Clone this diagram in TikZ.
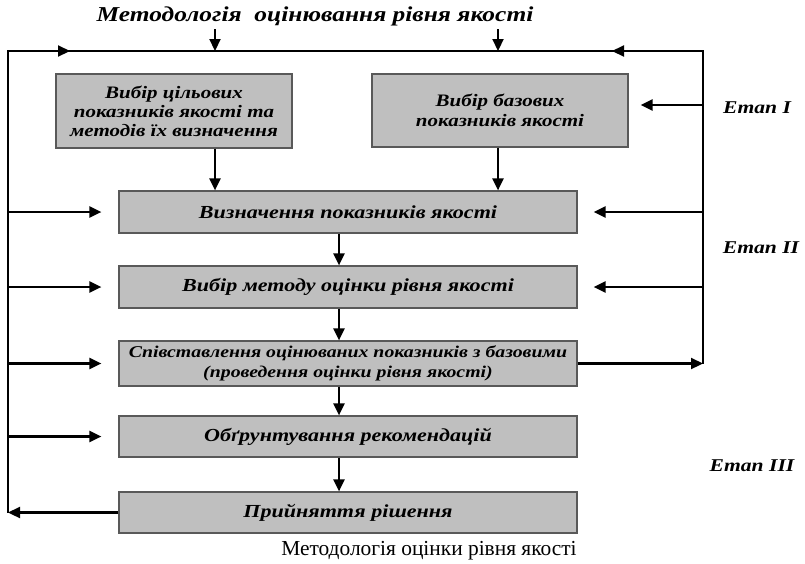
\documentclass[tikz,border=0pt]{standalone}
\usepackage{fontspec}
\setmainfont{Liberation Serif}
\newfontfamily\widefont[FakeStretch=1.2]{Liberation Serif}
\usetikzlibrary{arrows.meta}
\begin{document}
\begin{tikzpicture}[x=1pt,y=-1pt,
  box/.style={draw=black!65, fill=black!25, line width=1.2pt, inner sep=0pt, align=center,
              font=\widefont\bfseries\itshape\fontsize{18.4}{21}\selectfont},
  ln/.style={line width=2.2pt},
  arr/.style={line width=2.2pt, -{Triangle[length=12pt,width=11pt]}},
  etap/.style={font=\widefont\bfseries\itshape\fontsize{18}{20}\selectfont}]
\useasboundingbox (0,0) rectangle (805,563);
\node[font=\widefont\bfseries\itshape\fontsize{21.2}{24}\selectfont] (title) at (315,16) {Методологія\ \ оцінювання рівня якості};
\node[box, minimum width=236pt, minimum height=74pt, font=\widefont\bfseries\itshape\fontsize{17.5}{19}\selectfont] (b1) at (174,111) {Вибір цільових\\показників якості та\\методів їх визначення};
\node[box, minimum width=256pt, minimum height=73pt, font=\widefont\bfseries\itshape\fontsize{17.5}{19.5}\selectfont] (b2) at (500,110.5) {Вибір базових\\показників якості};
\node[box, minimum width=458pt, minimum height=42pt] (b3) at (348,212) {Визначення показників якості};
\node[box, minimum width=458pt, minimum height=42pt] (b4) at (348,287) {Вибір методу оцінки рівня якості};
\node[box, minimum width=458pt, minimum height=45pt, font=\widefont\bfseries\itshape\fontsize{16.5}{19.5}\selectfont] (b5) at (348,363.5) {Співставлення оцінюваних показників з базовими\\(проведення оцінки рівня якості)};
\node[box, minimum width=458pt, minimum height=41pt] (b6) at (348,436.5) {Обґрунтування рекомендацій};
\node[box, minimum width=458pt, minimum height=41pt] (b7) at (348,512.5) {Прийняття рішення};
\node[etap] (e1) at (757,108) {Етап I};
\node[etap] (e2) at (761,248) {Етап II};
\node[etap] (e3) at (752,466) {Етап III};
\node[font=\fontsize{21.4}{24}\selectfont] (cap) at (429,551) {Методологія оцінки рівня якості};
\coordinate (TL) at (8,51);
\coordinate (TR) at (703,51);
\coordinate (xA) at (215,0);
\coordinate (xB) at (498,0);
\coordinate (xC) at (339,0);
\coordinate (hA) at (70,51);
\coordinate (hB) at (612,51);
\draw[ln] (b7.west -| TL) -- (TL) -- (TR) -- (b5.east -| TR);
\draw[arr] (TL) -- (hA);
\draw[arr] (TR) -- (hB);
\draw[arr] (title.south -| xA) -- (TL -| xA);
\draw[arr] (title.south -| xB) -- (TL -| xB);
\draw[arr] (b1.south -| xA) -- (b3.north -| xA);
\draw[arr] (b2.south -| xB) -- (b3.north -| xB);
\draw[arr] (b3.south -| xC) -- (b4.north -| xC);
\draw[arr] (b4.south -| xC) -- (b5.north -| xC);
\draw[arr] (b5.south -| xC) -- (b6.north -| xC);
\draw[arr] (b6.south -| xC) -- (b7.north -| xC);
\foreach \n in {b3,b4,b5,b6} \draw[arr] (\n.west -| TL) -- ([xshift=-17pt]\n.west);
\draw[arr] ([yshift=5.5pt]b2.east -| TR) -- ([xshift=12pt,yshift=5.5pt]b2.east);
\foreach \n in {b3,b4} \draw[arr] (\n.east -| TR) -- ([xshift=16pt]\n.east);
\draw[arr] (b5.east) -- (b5.east -| TR);
\draw[arr] (b7.west) -- (b7.west -| TL);
\end{tikzpicture}
\end{document}
